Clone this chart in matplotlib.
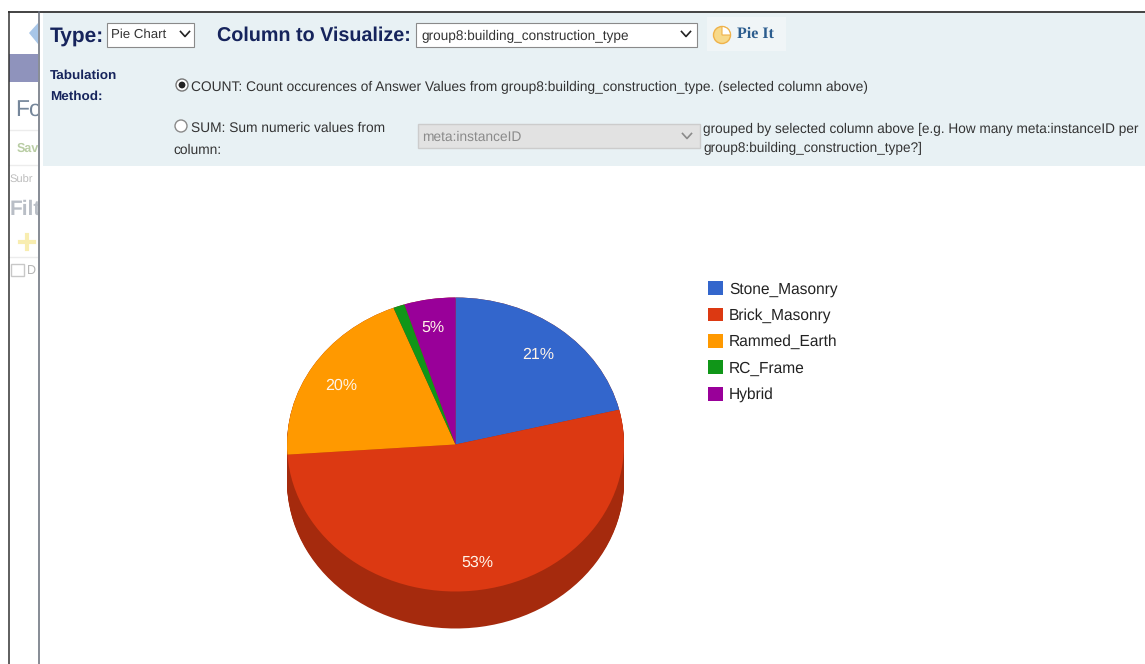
import numpy as np
import matplotlib
matplotlib.use("Agg")
import matplotlib.pyplot as plt
from matplotlib.patches import Rectangle, Polygon, Circle, Wedge

W, H = 1145, 664
categories = ["Stone_Masonry", "Brick_Masonry", "Rammed_Earth", "RC_Frame", "Hybrid"]
shares = [21.2, 52.7, 20.1, 1.1, 4.9]
colors = ["#3366CC", "#DC3912", "#FF9900", "#109618", "#990099"]
side_color = "#A52A0D"
pct_labels = ["21%", "53%", "20%", "", "5%"]
pct_pos = [(538, 355), (477, 563), (341, 386), None, (433, 328)]

NAVY = "#16245C"
TXT = "#333333"
plt.rcParams["font.family"] = ["Liberation Sans", "DejaVu Sans"]
plt.rcParams["text.hinting"] = "no_hinting"

fig = plt.figure(figsize=(W / 100, H / 100), dpi=100, facecolor="white")
bg = fig.add_axes([0, 0, 1, 1])
bg.set_xlim(0, W)
bg.set_ylim(H, 0)
bg.axis("off")


def box(x0, y0, x1, y1, fc, ec="none", lw=0, z=2):
    bg.add_patch(Rectangle((x0, y0), x1 - x0, y1 - y0, fc=fc, ec=ec, lw=lw, zorder=z))


def txt(x, y, s, size, color=TXT, weight="normal", z=5, **kw):
    bg.text(x, y, s, fontsize=size, color=color, fontweight=weight, va="center",
            ha=kw.pop("ha", "left"), zorder=z, **kw)


def chevron(x, y, color="#222222"):
    bg.plot([x - 4.5, x, x + 4.5], [y - 2.5, y + 2.5, y - 2.5], color=color, lw=1.2, zorder=6)


# sidebar (cut off by the panel)
box(9, 54, 38, 82, "#8F93BC", z=1)
for yy in (130, 165, 257):
    bg.plot([9, 38], [yy, yy], color="#ECECEC", lw=1, zorder=1)
bg.add_patch(Polygon([(29, 33), (38, 23), (38, 44)], fc="#A8C6E8", ec="none", zorder=1))
txt(15, 111, "Fo", 16.5, "#75869A", z=1)
txt(17, 149, "Sav", 9, "#B9CDA4", "bold", z=1)
txt(10, 180, "Subr", 8, "#BDBDBD", z=1)
txt(10, 209, "Filt", 15, "#B9BEC6", "bold", z=1)
bg.plot([27, 27], [235, 249], color="#F8EDB0", lw=3, zorder=1)
bg.plot([20, 34], [242, 242], color="#F8EDB0", lw=3, zorder=1)
box(11, 264, 24, 276, "white", "#C8C8C8", 1, z=1)
txt(27, 271, "D", 9, "#B5B5B5", z=1)

# frame and panel
box(38, 12, W, 170, "white", z=2)
box(38, 170, 43, H, "white", z=2)
box(43, 13, W, 166, "#E8F1F4", z=3)
bg.plot([8, W], [11.5, 11.5], color="#222222", lw=1.2, zorder=4, solid_capstyle="butt")
bg.plot([8.5, 8.5], [11, H], color="#333333", lw=1.1, zorder=4, solid_capstyle="butt")
bg.plot([38.5, 38.5], [11, H], color="#666C78", lw=1.1, zorder=4, solid_capstyle="butt")

# header row
txt(50, 36, "Type:", 15, NAVY, "bold")
box(107, 23, 194, 47, "white", "#8A8A8A", 0.8, z=4)
txt(111, 35, "Pie Chart", 9.5, "#333333")
chevron(185, 34)
txt(217, 36, "Column to Visualize:", 14.2, NAVY, "bold")
box(416, 23, 697, 47, "white", "#8A8A8A", 0.8, z=4)
txt(421, 36, "group8:building_construction_type", 9.8, "#333333")
chevron(686, 34)
box(707, 17, 786, 51, "#F0F5F7", z=4)
bg.add_patch(Circle((722, 35), 8.5, fc="#F7D98A", ec="#EFB24A", lw=1, zorder=5))
bg.add_patch(Wedge((722, 35), 8.5, 270, 360, fc="#FFFFFF", ec="#EFB24A", lw=0.8, zorder=6))
txt(737, 34, "Pie It", 11.5, "#2B5C8E", "bold", family=["Liberation Serif"])

# tabulation rows
txt(50, 76, "Tabulation", 9.7, NAVY, "bold")
txt(50, 97, "Method:", 9.7, NAVY, "bold")
bg.add_patch(Circle((182, 85), 6, fc="white", ec="#777777", lw=1, zorder=5))
bg.add_patch(Circle((182, 85), 3.4, fc="#222222", ec="none", zorder=6))
txt(191, 87.5, "COUNT: Count occurences of Answer Values from group8:building_construction_type. (selected column above)",
    9.87, TXT)
bg.add_patch(Circle((181, 126), 6, fc="white", ec="#8A8A8A", lw=1, zorder=5))
txt(191, 128.5, "SUM: Sum numeric values from", 9.87, TXT)
txt(173, 150, "column:", 9.87, TXT)
box(418, 124, 700, 148, "#E2E2E2", "#CCCCCC", 1, z=4)
txt(422, 137, "meta:instanceID", 9.87, "#8A8A8A")
chevron(687, 136, "#8A8A8A")
txt(703, 129.5, "grouped by selected column above [e.g. How many meta:instanceID per", 9.83, TXT)
txt(703, 148.5, "group8:building_construction_type?]", 9.83, TXT)

# pie: ellipse centred at (455, 444), radii 168.5 x 147, wall 37 px
cx, cy, rx, ry, wall = 455.5, 444.5, 168.5, 147.0, 37.0
ax = fig.add_axes([(cx - rx) / W, 1 - (cy + ry + wall) / H, 2 * rx / W, (2 * ry + wall) / H])
depth = wall / ry
for off in np.linspace(depth, 0, 40):
    ax.pie(shares, colors=[side_color] * len(shares), startangle=90, counterclock=False,
           center=(0, -off), radius=1, frame=False)
wedges, _ = ax.pie(shares, colors=colors, startangle=90, counterclock=False,
                   center=(0, 0), radius=1, frame=False)
ax.set_aspect("auto")
ax.set_xlim(-1, 1)
ax.set_ylim(-1 - depth, 1)
ax.axis("off")
ax.patch.set_alpha(0)

over = fig.add_axes([0, 0, 1, 1])
over.set_xlim(0, W)
over.set_ylim(H, 0)
over.axis("off")
over.patch.set_alpha(0)
for s, p in zip(pct_labels, pct_pos):
    if p is not None:
        over.text(p[0], p[1], s, color="#FFF4E8", fontsize=11.5, ha="center", va="center")

fig.legend(wedges, categories, loc="upper left",
           bbox_to_anchor=(701.5 / W, 1 - 275 / H), bbox_transform=fig.transFigure,
           frameon=False, fontsize=11.2, labelcolor="#222222",
           handlelength=1.0, handleheight=1.0, handletextpad=0.36,
           labelspacing=0.69, borderpad=0.4, borderaxespad=0)

fig.savefig("out.png", dpi=100, facecolor="white")
